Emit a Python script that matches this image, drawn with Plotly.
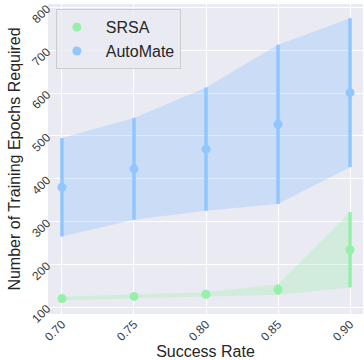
import numpy as np
import plotly.graph_objects as go

success_rate = [0.70, 0.75, 0.80, 0.85, 0.90]
tick_labels = ["0.70", "0.75", "0.80", "0.85", "0.90"]

srsa_mean = [120, 125, 130, 141, 234]
srsa_std = [4, 5, 5, 12, 88]

automate_mean = [380, 423, 469, 527, 601]
automate_std = [115, 119, 144, 186, 174]

SRSA_COLOR = "#97F0AA"
AUTO_COLOR = "#92C6FF"
SRSA_FILL = "rgba(151,240,170,0.30)"
AUTO_FILL = "rgba(146,198,255,0.35)"

# small gap between legend marker and label
PAD = "\u00a0\u00a0"

fig = go.Figure()


def add_series(name, mean, std, color, fill):
    mean = np.array(mean, dtype=float)
    std = np.array(std, dtype=float)
    upper = mean + std
    lower = mean - std
    x = list(success_rate)
    # shaded band between mean - std and mean + std
    fig.add_trace(go.Scatter(
        x=x + x[::-1], y=list(upper) + list(lower[::-1]),
        fill="toself", fillcolor=fill, line=dict(width=0),
        mode="lines", hoverinfo="skip", showlegend=False,
    ))
    # mean points with std error bars
    fig.add_trace(go.Scatter(
        x=x, y=mean, mode="markers", name=PAD + name,
        marker=dict(color=color, size=9),
        error_y=dict(type="data", array=std, visible=True,
                     color=color, thickness=3.5, width=0),
    ))


add_series("SRSA", srsa_mean, srsa_std, SRSA_COLOR, SRSA_FILL)
add_series("AutoMate", automate_mean, automate_std, AUTO_COLOR, AUTO_FILL)

axis_font = dict(family="Liberation Sans, Arial, sans-serif", size=12, color="#3a3a3a")
fig.update_layout(
    width=364, height=360,
    margin=dict(l=48, r=1, t=4, b=42),
    paper_bgcolor="white",
    plot_bgcolor="#EAEAF2",
    font=dict(family="Liberation Sans, Arial, sans-serif", color="#262626"),
    xaxis=dict(
        range=[0.6903, 0.909],
        tickvals=success_rate, ticktext=tick_labels, tickangle=-45,
        tickfont=axis_font, showgrid=True, gridcolor="white", gridwidth=1.2,
        zeroline=False, showline=False, ticks="",
        title=dict(text="Success Rate", font=dict(size=16, color="#262626"), standoff=4),
    ),
    yaxis=dict(
        range=[84, 808],
        tickvals=[100, 200, 300, 400, 500, 600, 700, 800], tickangle=-45,
        tickfont=axis_font, showgrid=True, gridcolor="white", gridwidth=1.2,
        zeroline=False, showline=False, ticks="",
        title=dict(text="Number of Training Epochs Required",
                   font=dict(size=16, color="#262626"), standoff=4),
    ),
    legend=dict(
        x=0.025, y=0.983, xanchor="left", yanchor="top",
        bgcolor="rgba(234,234,242,0.8)", bordercolor="#CCCCCC", borderwidth=1,
        font=dict(size=16, color="#262626"),
        itemwidth=30, tracegroupgap=2,
    ),
)

fig.write_html("out.html")
